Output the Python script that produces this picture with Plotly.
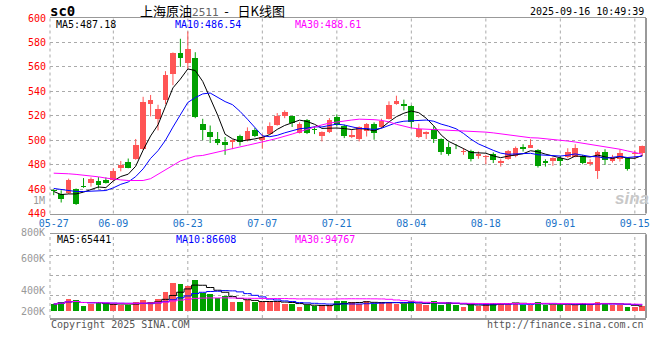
import plotly.graph_objects as go
import pandas as pd

# ---------------- data ----------------
dates = [
    "05-27", "05-28", "05-29", "05-30",
    "06-03", "06-04", "06-05", "06-06", "06-09", "06-10", "06-11", "06-12", "06-13",
    "06-16", "06-17", "06-18", "06-19", "06-20", "06-23", "06-24", "06-25", "06-26", "06-27", "06-30",
    "07-01", "07-02", "07-03", "07-04", "07-07", "07-08", "07-09", "07-10", "07-11",
    "07-14", "07-15", "07-16", "07-17", "07-18", "07-21", "07-22", "07-23", "07-24", "07-25",
    "07-28", "07-29", "07-30", "07-31",
    "08-01", "08-04", "08-05", "08-06", "08-07", "08-08", "08-11", "08-12", "08-13", "08-14", "08-15",
    "08-18", "08-19", "08-20", "08-21", "08-22", "08-25", "08-26", "08-27", "08-28", "08-29",
    "09-01", "09-02", "09-03", "09-04", "09-05", "09-08", "09-09", "09-10", "09-11", "09-12",
    "09-15", "09-16",
]

open_ = [459.5, 456, 457, 460, 462.5, 464.8, 466.8, 467.5, 467.5, 477.6,
         482, 485, 493, 529.5, 517, 533, 554.5, 571, 563, 567,
         513.5, 506.7, 501, 498.7, 498.2, 503.7, 500.4, 508.6, 500.4, 505.3,
         512.7, 519.5, 519.5, 505.8, 516.2, 509.1, 503.1, 506.4, 518.7, 511.3,
         502.6, 501, 507.2, 513.5, 510.5, 517.6, 529.6, 529.9, 528.3, 502.3,
         505, 509.1, 501.2, 494.4, 495.5, 490.3, 490.8, 486.7, 486.5, 488.5,
         481.7, 484.4, 487.2, 494.8, 494, 492.1, 483.3, 483.3, 485.8, 486.6,
         486.6, 487.2, 480.3, 475.1, 490.7, 483, 484.4, 485.8, 488.5, 489.3]
high = [460, 459, 468.5, 460.5, 469, 469.5, 469.8, 469.5, 477, 483,
        485, 501, 535.5, 537, 529, 556.5, 571.8, 583, 589, 572,
        517.5, 512, 506.7, 502.6, 500.5, 504.5, 510.5, 510, 505, 514.6,
        522.2, 524.4, 520, 514.6, 517.3, 511.3, 507.2, 518.1, 521, 512.7,
        508.6, 511.3, 514, 514.6, 517.6, 531.8, 536.4, 533.2, 528.6, 513.5,
        507.2, 511.3, 501.5, 498.2, 496.8, 493.5, 492.2, 490.8, 488, 490,
        484.4, 492, 494.8, 496.7, 500.8, 492.6, 484.4, 486, 487.2, 493.4,
        496.7, 488, 484.4, 491.5, 492.6, 488, 492.6, 486, 491.5, 495.6]
low = [455, 449, 456, 447, 461, 462, 460.5, 464.5, 466.5, 474.5,
       477, 484, 492, 519.5, 508, 529.5, 545, 560, 558.5, 518,
       500, 497.7, 496, 488, 492.7, 495.5, 499, 502.5, 493, 505,
       511.9, 518, 510.8, 505.5, 505, 505, 499, 505.8, 511.3, 501.7,
       501.7, 499, 503, 500.4, 510, 517, 529, 524.4, 510, 501.7,
       501, 497.7, 488, 487.3, 492.7, 488, 482.6, 484.8, 480.4, 481.3,
       478.4, 483.9, 486, 490.7, 493.8, 477.6, 478.4, 479, 479, 485.2,
       486, 480.3, 479, 468.3, 479.8, 481.7, 482.5, 475.1, 484.4, 487.2]
close = [458.5, 452, 467.5, 447.5, 462, 468, 463.5, 465, 475, 479.8,
         477.5, 496, 531, 533, 525.5, 553, 571.5, 567, 574.5, 519,
         508.5, 503, 497.7, 496.3, 500, 498.7, 507.2, 503.1, 502.6, 511.3,
         520, 523.3, 514, 513.5, 505.8, 508.6, 506.4, 516.2, 512.7, 503.7,
         504.5, 510.5, 513.5, 505.8, 516, 529, 531.8, 527.7, 514.9, 509.1,
         506.4, 500.9, 490, 488.9, 495, 490.8, 484.8, 488.9, 487.3, 484,
         483.3, 491.3, 493.4, 492.6, 496.2, 479, 481.7, 485.8, 483, 490.7,
         494, 481.1, 482.5, 490.7, 483.9, 486.6, 489.3, 476.2, 489.9, 495.4]
volume = [95000, 118000, 159000, 143000, 64000, 91000, 118000, 91000, 91000, 86000,
          86000, 116000, 143000, 116000, 159000, 258000, 381000, 363000, 340000, 418000,
          249000, 227000, 177000, 204000, 122000, 122000, 143000, 129000, 126000, 126000,
          126000, 99000, 99000, 54000, 78000, 64000, 82000, 88000, 136000, 136000,
          118000, 99000, 136000, 99000, 118000, 118000, 99000, 99000, 136000, 99000,
          86000, 136000, 86000, 118000, 86000, 54000, 86000, 64000, 109000, 109000,
          109000, 109000, 109000, 86000, 86000, 122000, 86000, 86000, 86000, 86000,
          86000, 109000, 86000, 122000, 109000, 86000, 86000, 54000, 54000, 64000]
# MA30 of price as drawn (earlier history not shown on chart)
ma30_price = [473, 473, 472.5, 472, 471.5, 470.5, 470, 469, 468, 467.5,
              467, 467, 467, 468.5, 472, 475.5, 479.5, 483, 485, 487,
              487.5, 489, 490.5, 491.5, 493, 494.5, 495.8, 497, 498.5, 500,
              501.5, 503, 505, 507, 509, 511, 512.5, 514, 515, 515.7,
              516.5, 517.2, 517.2, 516.8, 516.2, 515, 513, 511.5, 510, 509.3,
              509, 509, 508.8, 508.6, 508.4, 508, 507.4, 507, 506.6, 506,
              505.2, 504, 503, 502.4, 502, 501.8, 501.3, 500.6, 500, 499.3,
              498.5, 497.5, 496.4, 495.5, 494.8, 494, 492.6, 491.2, 490, 488.6]
ma5_head = [458, 455.5, 456, 456]
ma10_head = [460.5, 459.5, 458.5, 458, 458, 458.3, 458.5, 458.8, 461]

tick_labels = ["05-27", "06-09", "06-23", "07-07", "07-21", "08-04", "08-18", "09-01", "09-15"]
price_ticks = [440, 460, 480, 500, 520, 540, 560, 580, 600]
vol_tick_labels = ["800K", "600K", "400K", "200K"]
main_legend = ["MA5:487.18", "MA10:486.54", "MA30:488.61"]
vol_legend = ["MA5:65441", "MA10:86608", "MA30:94767"]
title_name = "上海原油"
title_code = "2511"
title_sep = "-"
title_rest = "日K线图"
symbol = "sc0"
timestamp = "2025-09-16 10:49:39"

# ---------------- derived ----------------
n = len(dates)
x = list(range(n))
cs = pd.Series(close, dtype=float)
ma5 = cs.rolling(5).mean().tolist()
ma10 = cs.rolling(10).mean().tolist()
ma5[:len(ma5_head)] = ma5_head
ma10[:len(ma10_head)] = ma10_head
vs = pd.Series(volume, dtype=float)
vma5 = vs.rolling(5, min_periods=1).mean().tolist()
vma10 = vs.rolling(10, min_periods=1).mean().tolist()
vma30 = vs.rolling(30, min_periods=1).mean().tolist()

RED = "#ff5555"
GREEN = "#00a000"
up = [c >= o for o, c in zip(open_, close)]
colors = [RED if u else GREEN for u in up]
tickvals = [dates.index(t) for t in tick_labels]

MONO = "DejaVu Sans Mono"
GRID = "#aaaaaa"
BORDER = "#999999"
BODY_W = 0.76

fig = go.Figure()
# wicks
for flag, col in [(True, RED), (False, GREEN)]:
    wx, wy = [], []
    for i in range(n):
        if up[i] == flag:
            wx += [x[i], x[i], None]
            wy += [low[i], high[i], None]
    fig.add_trace(go.Scatter(x=wx, y=wy, mode="lines", line=dict(color=col, width=1),
                             xaxis="x", yaxis="y", hoverinfo="skip", showlegend=False))
# bodies
body_base = [min(o, c) for o, c in zip(open_, close)]
body_h = [max(abs(c - o), 0.45) for o, c in zip(open_, close)]
fig.add_trace(go.Bar(x=x, y=body_h, base=body_base, width=BODY_W,
                     marker=dict(color=colors, line=dict(width=0)),
                     xaxis="x", yaxis="y", hoverinfo="skip", showlegend=False))
for vals, col in [(ma5, "#000000"), (ma10, "#0000ff"), (ma30_price, "#ff00ff")]:
    fig.add_trace(go.Scatter(x=x, y=vals, mode="lines", line=dict(color=col, width=1),
                             xaxis="x", yaxis="y", hoverinfo="skip", showlegend=False))

fig.add_trace(go.Bar(x=x, y=volume, marker=dict(color=colors, line=dict(width=0)),
                     width=BODY_W, xaxis="x2", yaxis="y2", hoverinfo="skip", showlegend=False))
for vals, col in [(vma5, "#000000"), (vma10, "#0000ff"), (vma30, "#ff00ff")]:
    fig.add_trace(go.Scatter(x=x, y=vals, mode="lines", line=dict(color=col, width=1, shape="hvh"),
                             xaxis="x2", yaxis="y2", hoverinfo="skip", showlegend=False))

# geometry (pixels)
PX_PER_VOL = 1 / 13600.0
L, R, T, B = 50, 10, 18, 42
W, H = 660, 360
PH = H - T - B  # 300
main_dom = [(318 - 213.5) / PH, 1.0]
vol_dom = [0.0, (318 - 234.3) / PH]
vol_range = [-7 / PX_PER_VOL, 76.7 / PX_PER_VOL]
vol_grid = [(311 - y) / PX_PER_VOL for y in (255, 275.3, 295.5)]


def px(xp):
    return (xp - L) / (W - L - R)


def py(yp):
    return (H - B - yp) / PH


fig.update_layout(
    width=W, height=H, margin=dict(l=L, r=R, t=T, b=B),
    paper_bgcolor="white", plot_bgcolor="white",
    showlegend=False, bargap=0, barmode="overlay",
    xaxis=dict(domain=[0, 1], range=[-0.5, n - 0.5], anchor="y",
               tickmode="array", tickvals=tickvals, ticktext=tick_labels,
               tickfont=dict(family=MONO, size=10, color="#1a73c8"),
               ticks="", showgrid=False, zeroline=False,
               showline=True, linecolor=BORDER, linewidth=1.5, mirror=True,
               ticklabelstandoff=0),
    yaxis=dict(domain=main_dom, range=[440, 600], anchor="x",
               tickmode="array", tickvals=price_ticks,
               tickfont=dict(family=MONO, size=10, color="#ff0000"),
               ticks="", showgrid=True, gridcolor=GRID, griddash="dot", gridwidth=1,
               zeroline=False, showline=False, ticklabelstandoff=3),
    xaxis2=dict(domain=[0, 1], range=[-0.5, n - 0.5], anchor="y2", matches="x",
                showticklabels=False, ticks="", showgrid=False, zeroline=False,
                showline=True, linecolor=BORDER, linewidth=1.5, mirror=True),
    yaxis2=dict(domain=vol_dom, range=vol_range, anchor="x2",
                tickmode="array", tickvals=vol_grid, showticklabels=False,
                ticks="", showgrid=True, gridcolor=GRID, griddash="dot", gridwidth=1,
                zeroline=False, showline=False),
)

shapes = []
for ya in ("y", "y2"):
    for tv in tickvals[1:]:
        shapes.append(dict(type="line", xref="x", yref=f"{ya} domain", x0=tv, x1=tv, y0=0, y1=1,
                           line=dict(color=GRID, width=1, dash="dot"), layer="below"))
for dom in (main_dom, vol_dom):
    shapes.append(dict(type="line", xref="paper", yref="paper", x0=1, x1=1, y0=dom[0], y1=dom[1],
                       line=dict(color=BORDER, width=2)))
    shapes.append(dict(type="line", xref="paper", yref="paper", x0=0, x1=0, y0=dom[0], y1=dom[1],
                       line=dict(color=GRID, width=1, dash="dot")))
fig.update_layout(shapes=shapes)

ann = []


def add(text, xp, yp, anchor="left", color="#000", size=10, family=MONO, **kw):
    ann.append(dict(text=text, x=px(xp), y=py(yp), xref="paper", yref="paper",
                    xanchor=anchor, yanchor="middle", showarrow=False,
                    font=dict(family=family, size=size, color=color), **kw))


add(f"<b>{symbol}</b>", 48, 11, size=14)
title_html = (f"{title_name}<span style='font-family:{MONO};font-size:11px;color:#666'>{title_code}</span>"
              f"&nbsp;&nbsp;{title_sep}&nbsp;&nbsp;&nbsp;{title_rest}")
add(title_html, 214, 10, anchor="center", size=13, family="Noto Sans CJK SC")
add(timestamp, 650, 12, anchor="right", size=10)
for txt, xp, col in zip(main_legend, (54, 174, 295), ("#000000", "#0000ff", "#ff00ff")):
    add(txt, xp, 24, color=col)
for txt, xp, col in zip(vol_legend, (55, 175, 295), ("#000000", "#0000ff", "#ff00ff")):
    add(txt, xp, 239, color=col)
for txt, yp in zip(vol_tick_labels, (232, 258.3, 290.7, 311)):
    add(txt, 47, yp, anchor="right", color="#999999")
add("1M", 47, 200, anchor="right", color="#999999")
add("Copyright 2025 SINA.COM", 49, 324.5, color="#555555")
add("http://finance.sina.com.cn", 650, 324.5, anchor="right", color="#555555")
add("<b><i>sina</i></b>", 636, 199, anchor="center", color="#c8c8c8", size=17, family="Liberation Sans")
fig.update_layout(annotations=ann)

fig.write_html("out.html", config={"displayModeBar": False, "staticPlot": True},
               post_script="document.body.style.margin='0';document.body.style.padding='0';")
